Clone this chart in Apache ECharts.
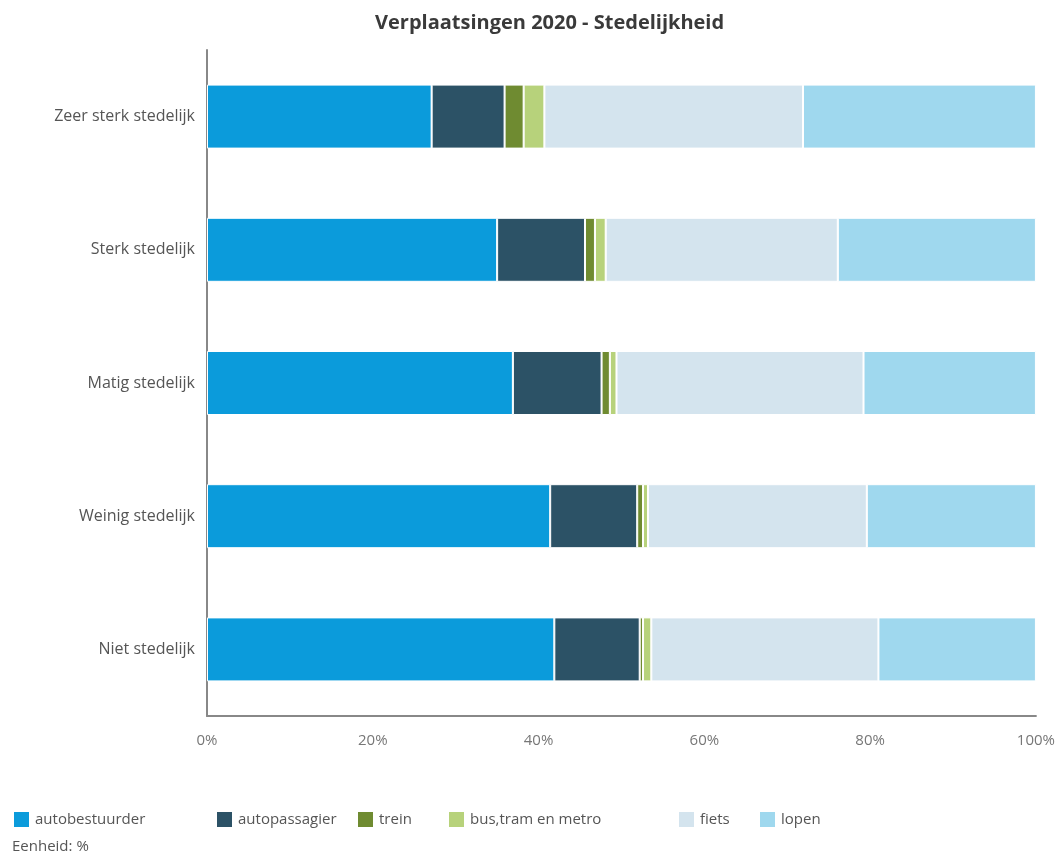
<!DOCTYPE html>
<html>
<head>
<meta charset="utf-8">
<script src="https://cdn.jsdelivr.net/npm/echarts@6/dist/echarts.min.js"></script>
<style>
	html, body { margin: 0; padding: 0; background: #fff; }
	#chart { width: 1058px; height: 861px; }
</style>
</head>
<body>
<div id="chart"></div>
<script>
var categories = ['Zeer sterk stedelijk', 'Sterk stedelijk', 'Matig stedelijk', 'Weinig stedelijk', 'Niet stedelijk'];
var autobestuurder = [27.1, 35.0, 36.9, 41.4, 41.9];
var autopassagier = [8.8, 10.6, 10.7, 10.5, 10.3];
var trein = [2.3, 1.2, 1.0, 0.7, 0.4];
var busTramMetro = [2.5, 1.3, 0.8, 0.6, 1.0];
var fiets = [31.2, 28.0, 29.8, 26.4, 27.4];
var lopen = [28.1, 23.9, 20.8, 20.4, 19.0];
var xTicks = [0, 20, 40, 60, 80, 100];

var seriesNames = ['autobestuurder', 'autopassagier', 'trein', 'bus,tram en metro', 'fiets', 'lopen'];
var seriesData = [autobestuurder, autopassagier, trein, busTramMetro, fiets, lopen];
var colors = ['#0b9bdb', '#2c5266', '#6f8b31', '#b7d27b', '#d4e4ee', '#9fd8ee'];
// legend item x positions, like the reference layout
var legendLeft = [7, 210, 351, 442, 672, 753];

var chart = echarts.init(document.getElementById('chart'));

function getOption(){
	var series = [];
	var legends = [];
	for (var i = 0; i < seriesNames.length; i++) {
		series.push({
			name: seriesNames[i],
			type: 'bar',
			stack: 'totaal',
			barWidth: 64,
			data: seriesData[i],
			itemStyle: { color: colors[i], borderColor: '#fff', borderWidth: 1 }
		});
		legends.push({
			data: [seriesNames[i]],
			left: legendLeft[i],
			top: 805,
			itemWidth: 17,
			itemHeight: 17,
			itemGap: 6,
			icon: 'rect',
			textStyle: { fontSize: 15, color: '#555' }
		});
	}
	var option = {
		textStyle: { fontFamily: 'Open Sans' },
		color: colors,
		title: {
			text: 'Verplaatsingen 2020 - Stedelijkheid',
			left: 370,
			top: 8,
			textStyle: { fontSize: 20, fontWeight: 'bold', color: '#3a3a3a', fontFamily: 'Open Sans' }
		},
		legend: legends,
		graphic: [{
			type: 'text',
			left: 12,
			top: 839,
			style: { text: 'Eenheid: %', fontSize: 15, fill: '#555', fontFamily: 'Open Sans' }
		}],
		grid: { left: 207, right: 22, top: 50, bottom: 145 },
		xAxis: {
			type: 'value',
			min: 0,
			max: 100,
			interval: 20,
			axisLine: { show: true, lineStyle: { color: '#888', width: 2 } },
			axisTick: { show: false },
			splitLine: { show: false },
			axisLabel: {
				formatter: function(v){ return xTicks.indexOf(v) >= 0 ? v + '%' : ''; },
				color: '#777',
				fontSize: 15,
				margin: 17
			}
		},
		yAxis: {
			type: 'category',
			inverse: true,
			data: categories,
			axisLine: { show: true, lineStyle: { color: '#888', width: 2 } },
			axisTick: { show: false },
			axisLabel: { color: '#555', fontSize: 16, margin: 12 }
		},
		series: series
	};
	return option;
}

chart.setOption(getOption());
</script>
</body>
</html>
